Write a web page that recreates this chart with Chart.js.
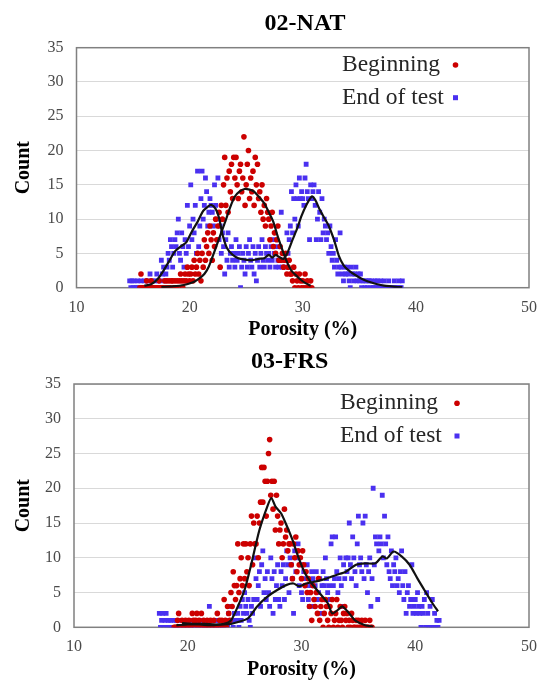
<!DOCTYPE html>
<html>
<head>
<meta charset="utf-8">
<script src="https://cdn.jsdelivr.net/npm/chart.js@4.4.1/dist/chart.umd.min.js"></script>
<style>
  html, body { margin: 0; padding: 0; background: #fff; }
  .panel { width: 547px; height: 340px; position: relative; }
  canvas { display: block; }
</style>
</head>
<body>
<div class="panel"><canvas id="c1" width="547" height="340"></canvas></div>
<div class="panel"><canvas id="c2" width="547" height="340"></canvas></div>
<script>
// ---------- Data (counts at 0.1 % porosity steps) ----------
const xTicks = [10, 20, 30, 40, 50];
const yTicks = [0, 5, 10, 15, 20, 25, 30, 35];
const seriesNames = ['Beginning', 'End of test'];
const panelTitles = ['02-NAT', '03-FRS'];
const step = 0.1;

// 02-NAT, Beginning (starts at 15.6 %)
const natBeginStart = 15.6;
const natBeginCounts = [0,2,0,0,
 0,0,1,0,0,0,1,0,0,0,
 0,0,0,1,0,0,0,0,1,0,
 1,0,1,0,1,1,0,1,0,1,
 0,1,2,1,0,1,2,1,3,2,
 1,2,3,1,4,2,3,5,2,4,
 1,5,3,7,4,6,8,5,9,7,
 4,8,6,10,7,9,11,3,12,10,
 15,19,12,16,11,17,14,18,13,19,
 16,19,15,13,17,18,14,16,22,12,
 15,18,20,13,16,14,17,12,19,15,
 18,13,14,11,15,10,12,9,13,11,
 10,7,9,11,6,8,5,7,9,4,
 6,4,5,3,4,5,2,3,4,2,
 2,1,3,0,2,1,0,2,1,0,
 1,0,2,0,1,0,0,1,0];

// 02-NAT, End of test (starts at 14.7 %)
const natEndStart = 14.7;
const natEndCounts = [1,0,1,
 0,1,0,0,1,0,0,1,0,0,
 1,0,0,1,0,2,0,1,0,1,
 0,2,1,0,1,4,2,3,1,2,
 3,5,4,7,6,3,5,7,6,8,
 10,5,4,8,6,3,7,5,12,6,
 9,15,7,10,8,12,5,17,6,9,
 13,17,10,12,16,14,9,11,13,12,
 11,9,15,12,10,16,7,9,5,8,
 6,2,7,4,8,3,5,6,4,5,
 3,7,4,5,6,0,3,5,4,2,
 6,3,5,7,4,3,6,2,5,1,
 4,6,3,5,7,4,3,6,5,4,
 5,3,6,4,7,5,3,6,4,3,
 4,11,3,5,4,3,8,5,7,9,
 14,8,13,10,15,13,9,16,13,14,
 13,12,16,18,14,13,7,15,13,14,
 15,12,7,10,14,11,7,13,8,10,
 9,7,8,5,9,6,4,5,3,7,
 4,2,3,8,3,2,1,3,2,3,
 2,1,0,3,2,1,2,3,1,2,
 1,2,0,1,1,0,1,0,1,1,
 0,1,0,0,1,0,1,0,0,1,
 0,0,1,0,0,0,1,0,0,0,
 0,1,0,0,0,1,0,0,1];

// 02-NAT moving-average curves
const natBeginTrendX = [17.5,18.5,19.5,20.3,20.8,21.3,21.7,22.2,22.7,23.1,23.6,24.0,24.4,24.85,25.3,25.7,26.1,26.6,27.0,27.4,27.8,28.1,28.4,28.7,29.0,29.4,29.8,30.2,30.7];
const natBeginTrendY = [0.1,0.2,0.4,0.8,1.3,2.0,3.1,5.3,7.6,9.4,11.8,13.3,14.0,14.4,14.3,14.0,13.3,12.3,11.0,9.6,7.4,6.0,4.6,3.4,2.5,1.8,1.2,0.7,0.3];
const natEndTrendX = [16.0,16.6,17.2,17.7,18.2,18.7,19.2,19.7,20.2,20.7,21.2,21.6,21.9,22.3,22.6,22.9,23.3,23.8,24.3,24.9,25.5,26.1,26.6,27.0,27.3,27.6,27.9,28.3,28.7,29.1,29.5,29.9,30.3,30.8,31.1,31.5,31.9,32.3,32.8,33.2,33.6,34.0,34.5,35.0,35.5,36.0,36.6,37.2,37.8,38.4,38.8];
const natEndTrendY = [0.3,0.5,1.3,2.5,3.9,5.3,6.0,6.6,8.2,9.6,11.2,11.8,12.1,11.5,10.2,7.8,5.8,4.8,4.3,4.1,4.0,4.2,4.3,4.8,4.4,4.8,4.5,4.2,5.3,7.0,8.6,10.5,12.0,13.3,12.8,11.4,10.2,9.0,6.8,4.6,3.3,2.6,2.0,1.5,1.1,0.8,0.5,0.3,0.2,0.1,0.1];

// 03-FRS, Beginning (starts at 18.8 %)
const frsBeginStart = 18.8;
const frsBeginCounts = [0,0,
 0,1,2,0,0,1,0,0,1,0,
 0,1,0,0,2,1,0,1,2,0,
 1,0,2,0,1,0,0,1,0,0,
 1,0,0,1,0,0,2,0,1,0,
 1,0,4,1,0,3,2,1,5,3,
 8,6,4,6,12,5,7,10,6,12,
 7,12,8,10,6,12,16,9,15,12,
 12,16,10,15,18,23,18,23,21,16,
 21,25,27,19,21,17,21,14,19,16,
 12,14,15,10,12,17,13,14,11,12,
 12,9,7,12,10,13,8,11,9,10,
 7,11,9,6,8,5,7,3,5,1,
 6,4,3,5,2,7,1,3,4,0,
 2,4,3,1,0,3,2,4,0,1,
 2,4,0,1,3,1,0,2,3,1,
 2,0,1,0,2,1,0,0,1,0,
 1,0,0,1,0,0,1,0,0,0,
 1,0,0];

// 03-FRS, End of test (starts at 17.5 %)
const frsEndStart = 17.5;
const frsEndCounts = [2,0,1,2,0,
 1,2,0,1,0,1,0,0,1,0,
 1,0,0,1,0,1,0,1,0,1,
 0,1,0,1,0,0,1,0,1,0,
 1,0,1,0,0,1,0,1,0,3,
 1,0,1,0,1,0,1,0,1,0,
 0,1,0,1,1,0,2,1,3,1,
 0,2,1,1,2,0,3,1,4,2,
 5,3,2,4,1,0,3,2,4,10,
 7,4,6,8,3,9,11,5,7,4,
 8,5,3,10,7,2,8,4,6,9,
 4,3,8,6,9,4,7,11,9,5,
 10,9,7,2,11,8,10,12,6,9,
 5,4,8,7,6,9,4,3,6,8,
 7,3,6,8,4,5,7,2,6,8,
 6,10,7,5,6,4,12,13,6,7,
 13,8,5,7,10,6,3,9,7,10,
 8,10,15,9,7,13,10,8,6,12,
 16,9,10,8,15,7,16,9,5,8,
 10,3,7,20,9,13,12,4,11,13,
 12,19,10,16,12,9,13,8,7,11,
 6,9,8,10,6,7,5,8,11,6,
 4,8,2,5,6,3,4,9,2,3,
 4,2,5,3,2,0,3,2,4,0,
 5,2,0,3,0,4,0,2,0,1,
 0,1];

// 03-FRS moving-average curves
const frsBeginTrendX = [19.5,20.5,21.5,22.5,23.2,23.8,24.4,25.0,25.6,26.3,27.0,27.35,27.7,28.2,28.6,29.2,29.7,30.3,30.9,31.6,32.3,32.7,33.2,33.6,34.2,34.7,35.6,36.3];
const frsBeginTrendY = [0.6,0.5,0.5,0.4,0.5,1.0,3.0,5.4,9.2,14.0,17.4,18.6,17.4,16.4,15.0,12.6,10.2,7.8,6.3,4.9,3.5,2.0,2.5,3.0,2.0,1.0,0.3,0.1];
const frsEndTrendX = [19.0,20.0,21.0,22.0,23.0,23.8,24.5,25.3,26.1,27.0,27.9,28.7,29.3,29.8,30.4,31.3,32.2,33.0,33.9,34.8,35.6,36.5,37.1,37.5,38.1,38.8,39.5,40.2,40.9,41.5,42.0];
const frsEndTrendY = [0.3,0.4,0.4,0.3,0.4,0.5,0.8,1.3,3.0,4.4,5.4,6.1,6.3,5.9,6.3,6.6,7.0,7.5,8.0,9.0,9.2,9.2,10.2,9.9,10.9,10.2,9.0,7.0,5.1,3.5,2.3];

// ---------- helpers ----------
function binned(start, counts) {
  return counts.map((c, i) => ({ x: Math.round((start + i * step) * 10) / 10, y: c }));
}
function paired(xs, ys) { return xs.map((x, i) => ({ x: x, y: ys[i] })); }

const RED = '#CC0000';
const BLUE = '#4A30F0';
const SERIF = '"Liberation Serif", "Times New Roman", serif';

const decoPlugin = {
  id: 'deco',
  beforeDatasetsDraw(chart, args, o) {
    const { ctx, chartArea: a } = chart;
    ctx.save();
    ctx.strokeStyle = '#808080';
    ctx.lineWidth = 1.5;
    ctx.strokeRect(a.left, a.top, a.right - a.left, a.bottom - a.top);
    ctx.restore();
  },
  afterDraw(chart, args, o) {
    const ctx = chart.ctx;
    ctx.save();
    ctx.fillStyle = '#000';
    ctx.font = 'bold 24px ' + SERIF;
    ctx.textAlign = 'center';
    ctx.textBaseline = 'middle';
    ctx.fillText(o.title, o.titleX, o.titleY);
    ctx.font = '23.5px ' + SERIF;
    ctx.textAlign = 'left';
    ctx.fillStyle = '#262626';
    ctx.fillText(seriesNames[0], o.legX, o.legY1);
    ctx.fillText(seriesNames[1], o.legX, o.legY2);
    ctx.fillStyle = RED;
    ctx.beginPath();
    ctx.arc(o.mkX, o.legY1, 2.8, 0, Math.PI * 2);
    ctx.fill();
    ctx.fillStyle = BLUE;
    ctx.fillRect(o.mkX - 2.5, o.legY2 - 2.5, 5, 5);
    ctx.restore();
  }
};

function makeChart(id, beginPts, endPts, beginTrend, endTrend, box, deco) {
  return new Chart(document.getElementById(id), {
    type: 'scatter',
    data: {
      datasets: [
        { label: 'Beginning trend', data: beginTrend, showLine: true, borderColor: '#111', borderWidth: 2.2,
          pointRadius: 0, tension: 0.25, fill: false, order: 0 },
        { label: 'End trend', data: endTrend, showLine: true, borderColor: '#111', borderWidth: 2.2,
          pointRadius: 0, tension: 0.25, fill: false, order: 0 },
        { label: seriesNames[0], data: beginPts, backgroundColor: RED, borderWidth: 0,
          pointStyle: 'circle', pointRadius: 2.8, order: 1 },
        { label: seriesNames[1], data: endPts, backgroundColor: BLUE, borderWidth: 0,
          pointStyle: 'rect', pointRadius: 3.4, order: 2 }
      ]
    },
    options: {
      responsive: false,
      animation: false,
      devicePixelRatio: 1,
      layout: { padding: { left: 0, right: 547 - box.right, top: box.top, bottom: 0 } },
      plugins: { legend: { display: false }, tooltip: { enabled: false }, deco: deco },
      scales: {
        x: {
          type: 'linear', min: xTicks[0], max: xTicks[xTicks.length - 1],
          afterBuildTicks: s => { s.ticks = xTicks.map(v => ({ value: v })); },
          afterFit: s => { s.height = 340 - box.bottom; },
          grid: { display: false, drawTicks: false },
          border: { display: false },
          ticks: { padding: 10, color: '#4a4a4a', font: { family: SERIF, size: 16 } },
          title: { display: true, text: 'Porosity (%)', color: '#000', padding: { top: 0, bottom: 0 },
                   font: { family: SERIF, size: 20, weight: 'bold', lineHeight: 1 } }
        },
        y: {
          type: 'linear', min: yTicks[0], max: yTicks[yTicks.length - 1],
          afterBuildTicks: s => { s.ticks = yTicks.map(v => ({ value: v })); },
          afterFit: s => { s.width = box.left; },
          grid: { color: '#D9D9D9', lineWidth: 1, drawTicks: false },
          border: { display: false },
          ticks: { padding: 13, color: '#4a4a4a', font: { family: SERIF, size: 16 } },
          title: { display: true, text: 'Count', color: '#000', padding: { top: 14, bottom: 0 },
                   font: { family: SERIF, size: 20, weight: 'bold', lineHeight: 1 } }
        }
      }
    },
    plugins: [decoPlugin]
  });
}

makeChart('c1',
  binned(natBeginStart, natBeginCounts), binned(natEndStart, natEndCounts),
  paired(natBeginTrendX, natBeginTrendY), paired(natEndTrendX, natEndTrendY),
  { left: 76.5, right: 535.3, top: 47.7, bottom: 287.7 },
  { title: panelTitles[0], titleX: 305, titleY: 23.5, legX: 342, legY1: 65, legY2: 97.7, mkX: 455.5 });

makeChart('c2',
  binned(frsBeginStart, frsBeginCounts), binned(frsEndStart, frsEndCounts),
  paired(frsBeginTrendX, frsBeginTrendY), paired(frsEndTrendX, frsEndTrendY),
  { left: 74, right: 536, top: 44, bottom: 287.3 },
  { title: panelTitles[1], titleX: 289.6, titleY: 22, legX: 340, legY1: 63.3, legY2: 96, mkX: 457 });
</script>
</body>
</html>
